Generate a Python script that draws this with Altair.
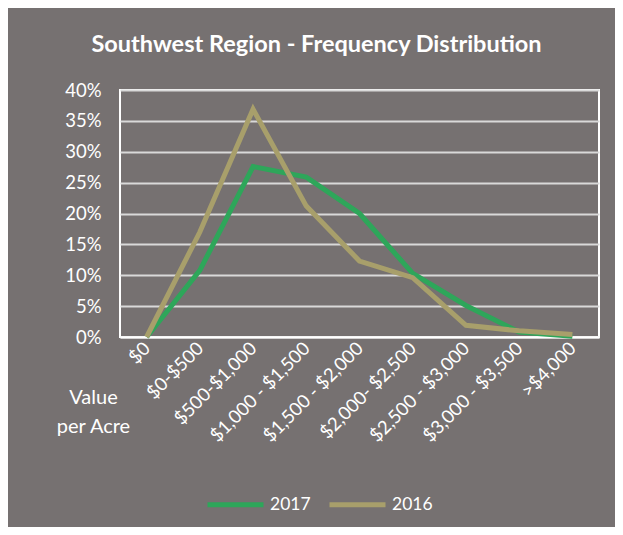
import altair as alt
import pandas as pd

categories = ["$0", "$0-$500", "$500-$1,000", "$1,000 - $1,500", "$1,500 - $2,000",
              "$2,000- $2,500", "$2,500 - $3,000", "$3,000 - $3,500", ">$4,000"]
values_2017 = [0.0, 0.108, 0.276, 0.259, 0.200, 0.103, 0.051, 0.008, 0.001]
values_2016 = [0.0, 0.170, 0.369, 0.212, 0.123, 0.096, 0.019, 0.010, 0.004]
series = ["2017", "2016"]
colors = ["#2EA65A", "#A89F6B"]

rows = []
for s, vals in zip(series, [values_2017, values_2016]):
    for c, v in zip(categories, vals):
        rows.append({"category": c, "share": v, "year": s})
df = pd.DataFrame(rows)

FONT = "Lato"

x_enc = alt.X("category:N", sort=categories,
              scale=alt.Scale(type="point", padding=0.5),
              axis=alt.Axis(title=["Value", "per Acre"], labelAngle=-45,
                            labelAlign="right", labelBaseline="middle",
                            labelPadding=8, labelFontSize=18.5, labelColor="white",
                            labelFont=FONT, ticks=False, domainColor="white",
                            domainWidth=2, grid=False,
                            titleFont=FONT, titleFontSize=20, titleFontWeight="normal",
                            titleColor="white", titleX=-27, titleY=60,
                            titleAlign="center", titleBaseline="middle",
                            titleLineHeight=29, titleAngle=0))
y_enc = alt.Y("share:Q", scale=alt.Scale(domain=[0, 0.4], nice=False),
              axis=alt.Axis(title=None, format=".0%",
                            values=[0, 0.05, 0.1, 0.15, 0.2, 0.25, 0.3, 0.35, 0.4],
                            labelFontSize=18.5, labelColor="white", labelFont=FONT,
                            labelPadding=19, ticks=False, domain=False,
                            gridColor="#D9D9D9", gridWidth=2))
color_enc = alt.Color("year:N", scale=alt.Scale(domain=series, range=colors),
                      legend=alt.Legend(title=None, orient="none", direction="horizontal",
                                        legendX=85, legendY=384,
                                        symbolType="stroke", symbolSize=3136,
                                        symbolStrokeWidth=5, labelFontSize=17.5,
                                        labelColor="white", labelFont=FONT,
                                        labelOffset=4, columnPadding=8))

base = alt.Chart(df).encode(x=x_enc, y=y_enc, color=color_enc)
l17 = base.transform_filter(alt.datum.year == "2017").mark_line(strokeWidth=5)
l16 = base.transform_filter(alt.datum.year == "2016").mark_line(strokeWidth=5)

chart = alt.layer(l17, l16).properties(
    width=479, height=247,
    title=alt.TitleParams("Southwest Region - Frequency Distribution",
                          font=FONT, fontSize=23.5, fontWeight="bold", color="white",
                          anchor="middle", dx=-43, offset=25),
    autosize=alt.AutoSizeParams(type="none"),
    padding={"left": 112, "top": 82, "right": 16, "bottom": 190},
    background="#767171",
).configure_view(stroke="white", strokeWidth=2)

chart.save("out.html", embed_options={"renderer": "svg", "actions": False})
